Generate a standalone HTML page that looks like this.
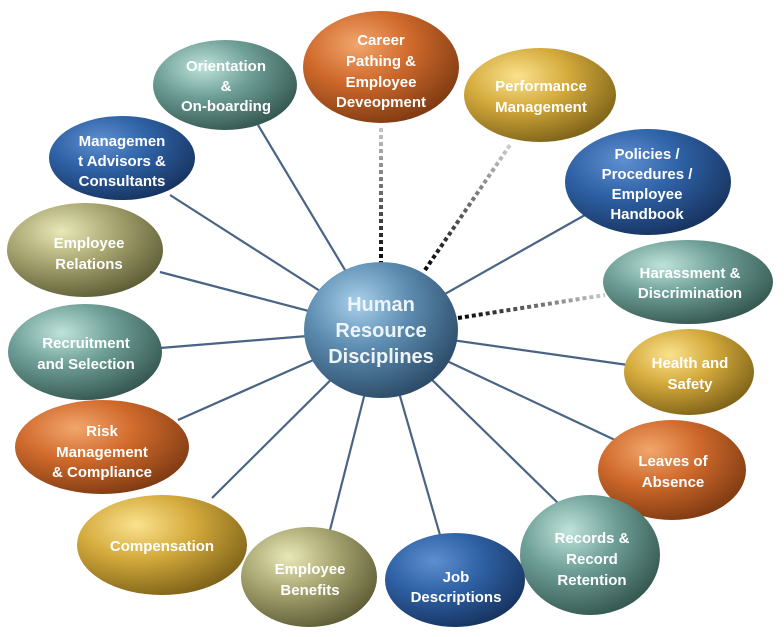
<!DOCTYPE html>
<html><head><style>
html,body{margin:0;padding:0;background:#fff;}
svg{display:block}
text{font-family:"Liberation Sans",sans-serif;font-weight:bold;fill:#fff;font-size:15px;text-anchor:middle}
</style></head><body>
<svg width="784" height="637" viewBox="0 0 784 637">
<defs>
<radialGradient id="teal" cx="35%" cy="30%" r="75%"><stop offset="0" stop-color="#bfe3da"/><stop offset="0.45" stop-color="#6e9f97"/><stop offset="1" stop-color="#34564f"/></radialGradient>
<radialGradient id="orange" cx="35%" cy="30%" r="75%"><stop offset="0" stop-color="#f2a66d"/><stop offset="0.45" stop-color="#d06a2c"/><stop offset="1" stop-color="#7e3a12"/></radialGradient>
<radialGradient id="gold" cx="35%" cy="30%" r="75%"><stop offset="0" stop-color="#fbe28e"/><stop offset="0.45" stop-color="#d4aa3c"/><stop offset="1" stop-color="#7d6218"/></radialGradient>
<radialGradient id="blue" cx="35%" cy="30%" r="75%"><stop offset="0" stop-color="#5e8fd0"/><stop offset="0.45" stop-color="#2f62a6"/><stop offset="1" stop-color="#17335f"/></radialGradient>
<radialGradient id="khaki" cx="35%" cy="30%" r="75%"><stop offset="0" stop-color="#e8e8b8"/><stop offset="0.45" stop-color="#a9a772"/><stop offset="1" stop-color="#5d5c36"/></radialGradient>
<radialGradient id="center" cx="35%" cy="30%" r="75%"><stop offset="0" stop-color="#a8d0ea"/><stop offset="0.45" stop-color="#5c8cb0"/><stop offset="1" stop-color="#2b4a66"/></radialGradient>
<linearGradient id="d1" gradientUnits="userSpaceOnUse" x1="381" y1="265" x2="381" y2="125"><stop offset="0" stop-color="#000"/><stop offset="1" stop-color="#ccc"/></linearGradient>
<linearGradient id="d2" gradientUnits="userSpaceOnUse" x1="425" y1="270" x2="510" y2="145"><stop offset="0" stop-color="#000"/><stop offset="1" stop-color="#ccc"/></linearGradient>
<linearGradient id="d3" gradientUnits="userSpaceOnUse" x1="458" y1="318" x2="605" y2="295"><stop offset="0" stop-color="#000"/><stop offset="1" stop-color="#ccc"/></linearGradient>
</defs>
<g stroke="#4a6486" stroke-width="2.2">
<line x1="381" y1="330" x2="258" y2="125"/>
<line x1="381" y1="330" x2="170" y2="195"/>
<line x1="381" y1="330" x2="160" y2="272"/>
<line x1="381" y1="330" x2="160" y2="348"/>
<line x1="381" y1="330" x2="178" y2="420"/>
<line x1="381" y1="330" x2="212" y2="498"/>
<line x1="381" y1="330" x2="330" y2="530"/>
<line x1="381" y1="330" x2="440" y2="535"/>
<line x1="381" y1="330" x2="560" y2="505"/>
<line x1="381" y1="330" x2="615" y2="440"/>
<line x1="381" y1="330" x2="628" y2="365"/>
<line x1="381" y1="330" x2="585" y2="215"/>
</g>
<line x1="381" y1="265" x2="381" y2="125" stroke="url(#d1)" stroke-width="4" stroke-dasharray="4,3"/>
<line x1="425" y1="270" x2="510" y2="145" stroke="url(#d2)" stroke-width="4" stroke-dasharray="4,3"/>
<line x1="458" y1="318" x2="605" y2="295" stroke="url(#d3)" stroke-width="4" stroke-dasharray="4,3"/>
<g>
<ellipse cx="225" cy="85" rx="72" ry="45" fill="url(#teal)"/>
<ellipse cx="381" cy="67" rx="78" ry="56" fill="url(#orange)"/>
<ellipse cx="540" cy="95" rx="76" ry="47" fill="url(#gold)"/>
<ellipse cx="648" cy="182" rx="83" ry="53" fill="url(#blue)"/>
<ellipse cx="688" cy="282" rx="85" ry="42" fill="url(#teal)"/>
<ellipse cx="689" cy="372" rx="65" ry="43" fill="url(#gold)"/>
<ellipse cx="672" cy="470" rx="74" ry="50" fill="url(#orange)"/>
<ellipse cx="590" cy="555" rx="70" ry="60" fill="url(#teal)"/>
<ellipse cx="455" cy="580" rx="70" ry="47" fill="url(#blue)"/>
<ellipse cx="309" cy="577" rx="68" ry="50" fill="url(#khaki)"/>
<ellipse cx="162" cy="545" rx="85" ry="50" fill="url(#gold)"/>
<ellipse cx="102" cy="447" rx="87" ry="47" fill="url(#orange)"/>
<ellipse cx="85" cy="352" rx="77" ry="48" fill="url(#teal)"/>
<ellipse cx="85" cy="250" rx="78" ry="47" fill="url(#khaki)"/>
<ellipse cx="122" cy="158" rx="73" ry="42" fill="url(#blue)"/>
<ellipse cx="381" cy="330" rx="77" ry="68" fill="url(#center)"/>
</g>
<text x="226" y="71">Orientation</text><text x="226" y="91">&amp;</text><text x="226" y="111">On-boarding</text>
<text x="381" y="45">Career</text><text x="381" y="66">Pathing &amp;</text><text x="381" y="87">Employee</text><text x="381" y="107">Deveopment</text>
<text x="541" y="91">Performance</text><text x="541" y="112">Management</text>
<text x="647" y="159">Policies /</text><text x="647" y="179">Procedures /</text><text x="647" y="199">Employee</text><text x="647" y="219">Handbook</text>
<text x="690" y="278">Harassment &amp;</text><text x="690" y="298">Discrimination</text>
<text x="690" y="368">Health and</text><text x="690" y="389">Safety</text>
<text x="673" y="466">Leaves of</text><text x="673" y="487">Absence</text>
<text x="592" y="543">Records &amp;</text><text x="592" y="564">Record</text><text x="592" y="585">Retention</text>
<text x="456" y="582">Job</text><text x="456" y="602">Descriptions</text>
<text x="310" y="574">Employee</text><text x="310" y="595">Benefits</text>
<text x="162" y="551">Compensation</text>
<text x="102" y="436">Risk</text><text x="102" y="457">Management</text><text x="102" y="477">&amp; Compliance</text>
<text x="86" y="348">Recruitment</text><text x="86" y="369">and Selection</text>
<text x="89" y="248">Employee</text><text x="89" y="269">Relations</text>
<text x="122" y="146">Managemen</text><text x="122" y="166">t Advisors &amp;</text><text x="122" y="186">Consultants</text>
<text x="381" y="311" style="font-size:20px;fill:#eef4f8">Human</text>
<text x="381" y="337" style="font-size:20px;fill:#eef4f8">Resource</text>
<text x="381" y="363" style="font-size:20px;fill:#eef4f8">Disciplines</text>
</svg>
</body></html>
